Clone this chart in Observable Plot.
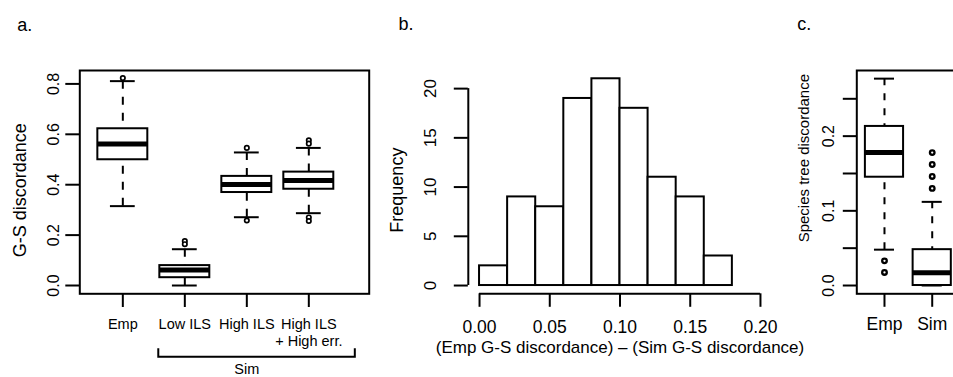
<!DOCTYPE html>
<html><head><meta charset="utf-8">
<script src="https://cdn.jsdelivr.net/npm/d3@7"></script>
<script src="https://cdn.jsdelivr.net/npm/@observablehq/plot@0.6"></script>
<style>
html,body{margin:0;padding:0;background:#fff;overflow:hidden;}
#fig{position:relative;width:953px;height:377px;overflow:hidden;background:#fff;}
#fig svg{position:absolute;left:0;top:0;}
</style></head><body><div id="fig"></div>
<script>
// ---------- Panel a: G-S discordance boxplots ----------
const groupsA = ["Emp", "Low ILS", "High ILS", "High ILS\n+ High err."];
const lowerWhiskerA = [0.315, 0.000, 0.271, 0.287];
const q1A = [0.499, 0.031, 0.369, 0.382];
const medianA = [0.562, 0.062, 0.401, 0.417];
const q3A = [0.622, 0.079, 0.433, 0.450];
const upperWhiskerA = [0.811, 0.144, 0.528, 0.546];
const outlierGroupA = [0, 1, 1, 2, 2, 3, 3, 3, 3];
const outlierValueA = [0.823, 0.176, 0.164, 0.546, 0.258, 0.576, 0.563, 0.270, 0.256];
const yTicksA = [0, 0.2, 0.4, 0.6, 0.8];
const yTickLabelsA = ["0.0", "0.2", "0.4", "0.6", "0.8"];
const simGroupsA = ["Low ILS", "High ILS", "High ILS\n+ High err."];
const yTitleA = "G-S discordance";
const bracketLabelA = "Sim";

// ---------- Panel b: histogram ----------
const breaksB = [0, 0.02, 0.04, 0.06, 0.08, 0.10, 0.12, 0.14, 0.16, 0.18];
const countsB = [2, 9, 8, 19, 21, 18, 11, 9, 3];
const xTicksB = [0, 0.05, 0.10, 0.15, 0.20];
const xTickLabelsB = ["0.00", "0.05", "0.10", "0.15", "0.20"];
const yTicksB = [0, 5, 10, 15, 20];
const yTickLabelsB = ["0", "5", "10", "15", "20"];
const xTitleB = "(Emp G-S discordance) \u2013 (Sim G-S discordance)";
const yTitleB = "Frequency";

// ---------- Panel c: species tree discordance ----------
const groupsC = ["Emp", "Sim"];
const lowerWhiskerC = [0.048, 0.000];
const q1C = [0.145, 0.000];
const medianC = [0.178, 0.017];
const q3C = [0.213, 0.048];
const upperWhiskerC = [0.277, 0.112];
const outlierGroupC = [0, 0, 1, 1, 1, 1];
const outlierValueC = [0.033, 0.0175, 0.178, 0.162, 0.146, 0.130];
const yTicksC = [0, 0.05, 0.10, 0.15, 0.20, 0.25];
const yTickLabelsC = ["0.0", "", "0.1", "", "0.2", ""];
const yTitleC = "Species tree discordance";

const FONT = '"Liberation Sans", Arial, Helvetica, sans-serif';
const style = {background: "transparent", maxWidth: "none", overflow: "visible", fontFamily: FONT, color: "black"};
const fig = document.getElementById("fig");

function boxMarks(table, outs, halfBox, halfCap, dot, dash) {
  return [
    Plot.ruleX(table, {x: "pos", y1: "hi", y2: "q3", stroke: "black", strokeWidth: 2, strokeDasharray: dash}),
    Plot.ruleX(table, {x: "pos", y1: "lo", y2: "q1", stroke: "black", strokeWidth: 2, strokeDasharray: dash}),
    Plot.ruleY(table, {y: "hi", x1: d => d.pos - halfCap, x2: d => d.pos + halfCap, stroke: "black", strokeWidth: 2}),
    Plot.ruleY(table, {y: "lo", x1: d => d.pos - halfCap, x2: d => d.pos + halfCap, stroke: "black", strokeWidth: 2}),
    Plot.rect(table, {x1: d => d.pos - halfBox, x2: d => d.pos + halfBox, y1: "q1", y2: "q3", fill: "white", stroke: "black", strokeWidth: 2}),
    Plot.ruleY(table, {y: "med", x1: d => d.pos - halfBox, x2: d => d.pos + halfBox, stroke: "black", strokeWidth: 5}),
    Plot.dot(outs, {x: "pos", y: "v", r: dot.r, fill: "white", stroke: "black", strokeWidth: dot.w})
  ];
}

// ---- Panel a ----
const tableA = groupsA.map((g, i) => ({g, pos: i + 1, lo: lowerWhiskerA[i], q1: q1A[i], med: medianA[i], q3: q3A[i], hi: upperWhiskerA[i]}));
const outA = outlierGroupA.map((gi, k) => ({pos: gi + 1, v: outlierValueA[k]}));
const simFirst = groupsA.indexOf(simGroupsA[0]) + 1;
const simLast = groupsA.indexOf(simGroupsA[simGroupsA.length - 1]) + 1;

function bracketMark(index, scales, values, dimensions) {
  const x = scales.x;
  const yb = dimensions.height - dimensions.marginBottom;
  const x1 = x(simFirst - 0.42), x2 = x(simLast + 0.75);
  const p = document.createElementNS("http://www.w3.org/2000/svg", "path");
  p.setAttribute("d", `M${x1},${yb + 55}V${yb + 63.4}H${x2}V${yb + 55}`);
  p.setAttribute("fill", "none");
  p.setAttribute("stroke", "black");
  p.setAttribute("stroke-width", "2");
  return p;
}

const plotA = Plot.plot({
  width: 953, height: 377,
  marginLeft: 79.3, marginRight: 953 - 368.7, marginTop: 70, marginBottom: 377 - 293.3,
  style,
  x: {type: "linear", domain: [0.306, 4.974]},
  y: {domain: [-0.0329, 0.8532]},
  marks: [
    ...boxMarks(tableA, outA, 0.403, 0.2, {r: 2.2, w: 1.7}, "8,8"),
    Plot.frame({stroke: "black", strokeWidth: 2}),
    Plot.axisY(yTicksA, {tickFormat: d => yTickLabelsA[yTicksA.indexOf(d)], tickRotate: -90, textAnchor: "middle", lineAnchor: "bottom", tickSize: 14, tickPadding: 7, fontSize: 16, strokeWidth: 2, label: null}),
    Plot.axisX(tableA.map(d => d.pos), {tickFormat: d => groupsA[d - 1], tickSize: 13.7, tickPadding: 8.7, fontSize: 14.5, lineHeight: 1.2, strokeWidth: 2, label: null}),
    Plot.text([yTitleA], {frameAnchor: "left", rotate: -90, dx: -60, dy: 8, fontSize: 18, textAnchor: "middle", lineAnchor: "middle"}),
    bracketMark,
    Plot.text([bracketLabelA], {x: [(simFirst + simLast) / 2], frameAnchor: "bottom", dy: 80.5, fontSize: 14.5, lineAnchor: "bottom"}),
    Plot.text(["a."], {frameAnchor: "top-left", dx: -62.6, dy: -40, fontSize: 18, textAnchor: "start", lineAnchor: "bottom"})
  ]
});
fig.appendChild(plotA);

// ---- Panel b ----
const tableB = countsB.map((c, i) => ({x0: breaksB[i], x1: breaksB[i + 1], count: c}));
const xDomB = [-0.008, 0.208];
const yDomB = [-0.84, 21.84];
const plotB = Plot.plot({
  width: 953, height: 377,
  marginLeft: 467.8, marginRight: 953 - 771.2, marginTop: 70, marginBottom: 377 - 293.3,
  style,
  x: {domain: xDomB},
  y: {domain: yDomB},
  marks: [
    Plot.rect(tableB, {x1: "x0", x2: "x1", y1: () => 0, y2: "count", fill: "white", stroke: "black", strokeWidth: 2}),
    Plot.ruleX([xDomB[0]], {y1: yTicksB[0], y2: yTicksB[yTicksB.length - 1], stroke: "black", strokeWidth: 2}),
    Plot.ruleY([yDomB[0]], {x1: xTicksB[0], x2: xTicksB[xTicksB.length - 1], stroke: "black", strokeWidth: 2}),
    Plot.axisY(yTicksB, {tickFormat: d => yTickLabelsB[yTicksB.indexOf(d)], tickRotate: -90, textAnchor: "middle", lineAnchor: "bottom", tickSize: 14, tickPadding: 18, fontSize: 17, strokeWidth: 2, label: null}),
    Plot.axisX(xTicksB, {tickFormat: d => xTickLabelsB[xTicksB.indexOf(d)], tickSize: 13.5, tickPadding: 13, fontSize: 17.5, strokeWidth: 2, label: null}),
    Plot.text([yTitleB], {frameAnchor: "left", rotate: -90, dx: -70.6, dy: 8, fontSize: 18, textAnchor: "middle", lineAnchor: "middle"}),
    Plot.text([xTitleB], {frameAnchor: "bottom", dy: 53.3, fontSize: 17, textAnchor: "middle", lineAnchor: "middle"}),
    Plot.text(["b."], {frameAnchor: "top-left", dx: -69.8, dy: -41, fontSize: 18, textAnchor: "start", lineAnchor: "bottom"})
  ]
});
fig.appendChild(plotB);

// ---- Panel c ----
const tableC = groupsC.map((g, i) => ({g, pos: i + 1, lo: lowerWhiskerC[i], q1: q1C[i], med: medianC[i], q3: q3C[i], hi: upperWhiskerC[i]}));
const outC = outlierGroupC.map((gi, k) => ({pos: gi + 1, v: outlierValueC[k]}));
const plotC = Plot.plot({
  width: 1000, height: 377,
  marginLeft: 856.3, marginRight: 1000 - 959.4, marginTop: 70, marginBottom: 377 - 293.3,
  style,
  x: {type: "linear", domain: [0.42, 2.58]},
  y: {domain: [-0.0111, 0.2879]},
  marks: [
    ...boxMarks(tableC, outC, 0.4, 0.21, {r: 2.3, w: 2.3}, "7,8"),
    Plot.frame({stroke: "black", strokeWidth: 2}),
    Plot.axisY(yTicksC, {tickFormat: d => yTickLabelsC[yTicksC.indexOf(d)], tickRotate: -90, textAnchor: "middle", lineAnchor: "bottom", tickSize: 13.5, tickPadding: 9.5, fontSize: 16, strokeWidth: 2, label: null}),
    Plot.axisX(tableC.map(d => d.pos), {tickFormat: d => groupsC[d - 1], tickSize: 13.5, tickPadding: 10, fontSize: 17.5, strokeWidth: 2, label: null}),
    Plot.text([yTitleC], {frameAnchor: "left", rotate: -90, dx: -52.6, dy: -24, fontSize: 15, textAnchor: "middle", lineAnchor: "middle"}),
    Plot.text(["c."], {frameAnchor: "top-left", dx: -59.6, dy: -41, fontSize: 18, textAnchor: "start", lineAnchor: "bottom"})
  ]
});
fig.appendChild(plotC);
</script></body></html>
